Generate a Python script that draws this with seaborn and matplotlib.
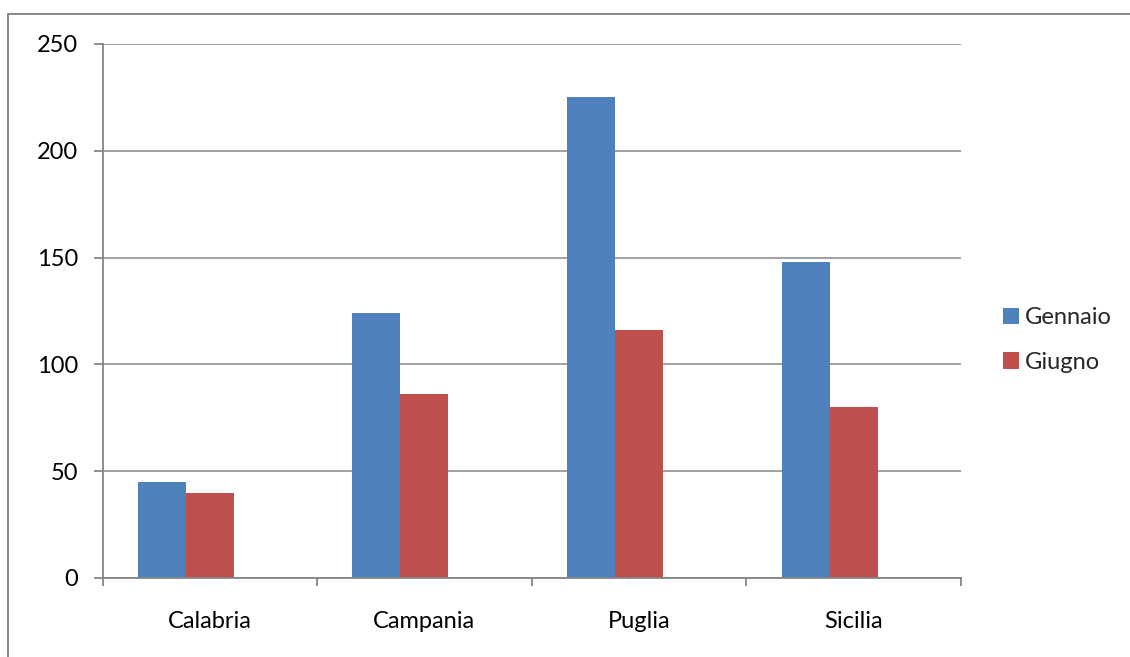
import matplotlib
matplotlib.use("Agg")
import matplotlib.pyplot as plt
from matplotlib.lines import Line2D
from matplotlib.patches import Patch
import seaborn as sns
import pandas as pd
import numpy as np

regions = ["Calabria", "Campania", "Puglia", "Sicilia"]
gennaio = [45, 124, 225, 148]
giugno = [40, 86, 116, 80]
months = ["Gennaio", "Giugno"]
colors = ["#4F81BD", "#C0504D"]
y_ticks = [0, 50, 100, 150, 200, 250]

df = pd.DataFrame({
    "Regione": regions * 2,
    "Mese": [months[0]] * len(regions) + [months[1]] * len(regions),
    "Valore": gennaio + giugno,
})

sns.set_theme(style="white")
plt.rcParams["font.family"] = ["Lato", "DejaVu Sans"]

grey = "#868686"
fs = 17
fig = plt.figure(figsize=(11.3, 6.57), dpi=100)
ax = fig.add_axes([102.5 / 1130, 1 - 578 / 657, (961 - 102.5) / 1130, (578 - 44) / 657])

# three series slots per category, the third one left empty
slots = months + ["(vuoto)"]
sns.barplot(data=df, x="Regione", y="Valore", hue="Mese", hue_order=slots,
            palette=colors + ["#FFFFFF"], width=0.6705, saturation=1, ax=ax, legend=False,
            edgecolor="none", linewidth=0)

ax.set_xlim(-0.5, len(regions) - 0.5)
ax.set_ylim(0, 250)
ax.set_yticks(y_ticks)
ax.set_yticklabels([str(v) for v in y_ticks])
ax.yaxis.grid(True, color=grey, linewidth=1.1)
ax.set_axisbelow(True)
ax.set_xlabel("")
ax.set_ylabel("")

for side in ["top", "right"]:
    ax.spines[side].set_visible(False)
for side in ["left", "bottom"]:
    ax.spines[side].set_color(grey)
    ax.spines[side].set_linewidth(1.3)

ax.set_xticks(np.arange(-0.5, len(regions), 1.0), minor=True)
ax.tick_params(axis="x", which="minor", length=6, width=1.3, color=grey, direction="out", bottom=True)
ax.tick_params(axis="x", which="major", length=0, pad=24, labelsize=fs, labelcolor="black")
ax.tick_params(axis="y", which="major", length=6.5, width=1.3, color=grey, direction="out",
               left=True, pad=11, labelsize=fs, labelcolor="black")

handles = [Patch(facecolor=c, edgecolor="none") for c in colors]
fig.legend(handles, months, loc="center left", bbox_to_anchor=(1003 / 1130, 1 - 340 / 657),
           frameon=False, fontsize=fs, handlelength=0.68, handleheight=0.68,
           handletextpad=0.25, labelspacing=1.0, borderpad=0, borderaxespad=0)

# outer frame of the chart area
fig.add_artist(Line2D([8 / 1130, 8 / 1130], [0, 1 - 14 / 657], transform=fig.transFigure,
                      color=grey, linewidth=1.4))
fig.add_artist(Line2D([8 / 1130, 1], [1 - 14 / 657, 1 - 14 / 657], transform=fig.transFigure,
                      color=grey, linewidth=1.4))

fig.savefig("out.png", dpi=100, facecolor="white")
